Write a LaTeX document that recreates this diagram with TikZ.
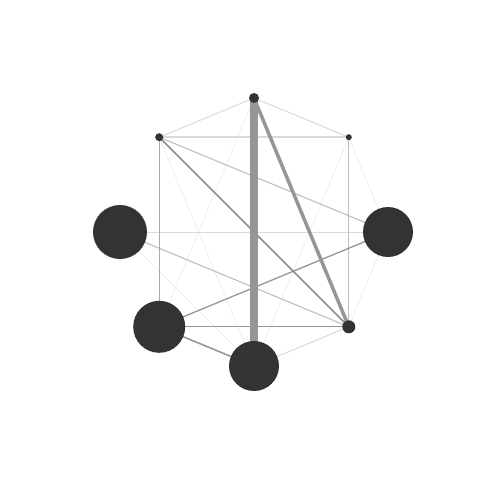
\documentclass[tikz,border=0pt]{standalone}
\usepackage{tikz}

\pgfdeclarelayer{edges}
\pgfsetlayers{edges,main}

\begin{document}
\begin{tikzpicture}[x=1pt,y=1pt,yscale=-1,xscale=1,
    vert/.style={circle,fill={rgb,255:red,51;green,51;blue,51},inner sep=0pt},
    faint/.style={draw={rgb,255:red,236;green,236;blue,236},line width=0.7},
    pale/.style={draw={rgb,255:red,218;green,218;blue,218},line width=1},
    mid/.style={draw={rgb,255:red,190;green,190;blue,190},line width=1.1},
    dark/.style={draw={rgb,255:red,150;green,150;blue,150},line width=1.3}]
  \useasboundingbox (0,0) rectangle (480,480);

  % Vertices
  \node [vert,minimum size=10] (top) at (254,98) {};
  \node [vert,minimum size=8] (topleft) at (159.2,137.2) {};
  \node [vert,minimum size=6] (topright) at (348.8,137.2) {};
  \node [vert,minimum size=54] (left) at (120,232) {};
  \node [vert,minimum size=50] (right) at (388,232) {};
  \node [vert,minimum size=52] (botleft) at (159.2,326.8) {};
  \node [vert,minimum size=13] (botright) at (348.8,326.8) {};
  \node [vert,minimum size=50] (bottom) at (254,366) {};

  \begin{pgfonlayer}{edges}
  % Faint lines
  \draw [faint] (top.center) -- (botleft.center);
  \draw [faint] (topright.center) -- (bottom.center);
  \draw [faint] (topleft.center) -- (bottom.center);
  \draw [faint] (left.center) -- (bottom.center);
  \draw [faint] (topright.center) -- (right.center);
  \draw [faint] (right.center) -- (botright.center);
  % Pale lines
  \draw [pale] (top.center) -- (topleft.center);
  \draw [pale] (top.center) -- (topright.center);
  \draw [pale] (left.center) -- (right.center);
  \draw [pale] (bottom.center) -- (botright.center);
  \draw [pale,line width=2] (topleft.center) -- (topright.center);
  % Mid lines
  \draw [mid] (topleft.center) -- (right.center);
  \draw [mid] (left.center) -- (botright.center);
  \draw [mid] (topright.center) -- (botright.center);
  \draw [mid,draw={rgb,255:red,170;green,170;blue,170}] (topleft.center) -- (botleft.center);
  % Dark lines
  \draw [dark] (botleft.center) -- (right.center);
  \draw [dark] (botleft.center) -- (botright.center);
  \draw [dark,line width=1.6] (botleft.center) -- (bottom.center);
  \draw [dark,draw={rgb,255:red,140;green,140;blue,140},line width=1.5] (topleft.center) -- (botright.center);
  % Heavy lines
  \draw [dark,line width=3.5] (top.center) -- (botright.center);
  \draw [dark,line width=8] (top.center) -- (bottom.center);
  \end{pgfonlayer}

\end{tikzpicture}
\end{document}
